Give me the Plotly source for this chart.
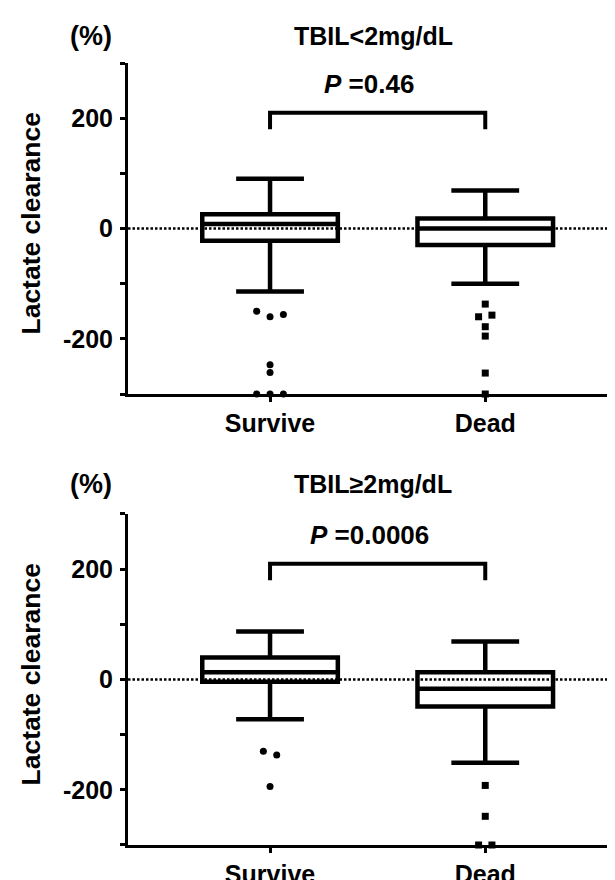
import plotly.graph_objects as go
from plotly.subplots import make_subplots

# ---------------- data ----------------
groups = ["Survive", "Dead"]
panel_titles = ["TBIL<2mg/dL", "TBIL≥2mg/dL"]
p_values = ["0.46", "0.0006"]
y_tick_values = [-300, -200, -100, 0, 100, 200, 300]
y_tick_labels = ["", "-200", "", "0", "", "200", ""]

# panel 1: TBIL<2mg/dL   (Survive, Dead)
p1_upper = [90, 69]
p1_q3 = [26, 18]
p1_median = [8, 0]
p1_q1 = [-22, -30]
p1_lower = [-114, -100]
p1_survive_outliers = [-150, -160, -156, -247, -261, -300, -300, -300]
p1_survive_slots = [-2, 0, 2, 0, 0, -2, 0, 2]
p1_dead_outliers = [-137, -160, -157, -178, -195, -262, -300]
p1_dead_slots = [0, -1, 1, 0, 0, 0, 0]

# panel 2: TBIL>=2mg/dL  (Survive, Dead)
p2_upper = [87, 69]
p2_q3 = [40, 13]
p2_median = [13, -17]
p2_q1 = [-4, -49]
p2_lower = [-72, -151]
p2_survive_outliers = [-130, -137, -194]
p2_survive_slots = [-1, 1, 0]
p2_dead_outliers = [-192, -248, -300, -300]
p2_dead_slots = [0, 0, -1, 1]

bracket_low = 180
bracket_high = 210
p_label_y = 262

# ---------------- figure ----------------
FONT = "Arial, 'Liberation Sans', sans-serif"
SLOT = 0.031  # horizontal spread of tied outliers (x units)

fig = make_subplots(rows=2, cols=1)

panels = [
    (p1_upper, p1_q3, p1_median, p1_q1, p1_lower,
     p1_survive_outliers, p1_survive_slots, p1_dead_outliers, p1_dead_slots),
    (p2_upper, p2_q3, p2_median, p2_q1, p2_lower,
     p2_survive_outliers, p2_survive_slots, p2_dead_outliers, p2_dead_slots),
]

for i, (up, q3, med, q1, lo, so, ss, do, ds) in enumerate(panels):
    row = i + 1
    for g in range(len(groups)):
        fig.add_trace(go.Box(
            x=[g], q1=[q1[g]], median=[med[g]], q3=[q3[g]],
            lowerfence=[lo[g]], upperfence=[up[g]],
            width=0.63, whiskerwidth=0.5, boxpoints=False,
            fillcolor="white", line=dict(color="black", width=4.5),
            hoverinfo="skip", showlegend=False,
        ), row=row, col=1)
    # outliers
    fig.add_trace(go.Scatter(
        x=[0 + s * SLOT for s in ss], y=so, mode="markers",
        marker=dict(symbol="circle", size=7, color="black"),
        cliponaxis=False, showlegend=False, hoverinfo="skip",
    ), row=row, col=1)
    fig.add_trace(go.Scatter(
        x=[1 + s * SLOT for s in ds], y=do, mode="markers",
        marker=dict(symbol="square", size=7, color="black"),
        cliponaxis=False, showlegend=False, hoverinfo="skip",
    ), row=row, col=1)
    # significance bracket
    fig.add_trace(go.Scatter(
        x=[0, 0, 1, 1], y=[bracket_low, bracket_high, bracket_high, bracket_low],
        mode="lines", line=dict(color="black", width=4),
        cliponaxis=False, showlegend=False, hoverinfo="skip",
    ), row=row, col=1)
    # dotted zero line
    fig.add_hline(y=0, line=dict(color="black", width=2.5, dash="2.5px,2px"),
                  layer="above", row=row, col=1)

    xref = "x" if row == 1 else "x2"
    yref = "y" if row == 1 else "y2"
    ann_font = dict(family=FONT, color="black", weight="bold")
    title_y = 1.083 if row == 1 else 1.09
    fig.add_annotation(text=panel_titles[i], xref=xref, yref=yref + " domain",
                       x=0.48, y=title_y, showarrow=False,
                       xanchor="center", yanchor="middle",
                       font=dict(ann_font, size=25))
    fig.add_annotation(text=f"<i>P</i> ={p_values[i]}", xref=xref, yref=yref,
                       x=0.46, y=p_label_y, showarrow=False,
                       xanchor="center", yanchor="middle",
                       font=dict(ann_font, size=26))
    fig.add_annotation(text="(%)", xref=xref + " domain", yref=yref + " domain",
                       x=0, xshift=-37, y=title_y,
                       showarrow=False, xanchor="center", yanchor="middle",
                       font=dict(ann_font, size=27))
    fig.add_annotation(text="Lactate clearance", xref=xref + " domain",
                       yref=yref + " domain", x=0, xshift=-97, y=0.515,
                       textangle=-90, showarrow=False, xanchor="center",
                       yanchor="middle", font=dict(ann_font, size=26.5))

axis_common = dict(showline=True, linewidth=3, linecolor="black",
                   ticks="outside", ticklen=5, tickwidth=3, tickcolor="black",
                   showgrid=False, zeroline=False,
                   tickfont=dict(family=FONT, size=25, color="black", weight="bold"))

for ax in ["xaxis", "xaxis2"]:
    fig.update_layout({ax: dict(axis_common, range=[-0.66, 1.64], tickvals=[0, 1],
                                ticktext=groups, ticklabelstandoff=0)})
fig.update_layout(
    yaxis=dict(axis_common, range=[-300, 300], tickvals=y_tick_values,
               ticktext=y_tick_labels, domain=[0.5767, 1.0], ticklabelstandoff=2),
    yaxis2=dict(axis_common, range=[-300, 300], tickvals=y_tick_values,
                ticktext=y_tick_labels, domain=[0.0, 0.4233], ticklabelstandoff=2),
)

fig.update_layout(
    width=615, height=880,
    margin=dict(l=120, r=0, t=55, b=36),
    paper_bgcolor="white", plot_bgcolor="white",
    boxmode="overlay", showlegend=False,
    font=dict(family=FONT, color="black"),
)

fig.write_html("out.html")
